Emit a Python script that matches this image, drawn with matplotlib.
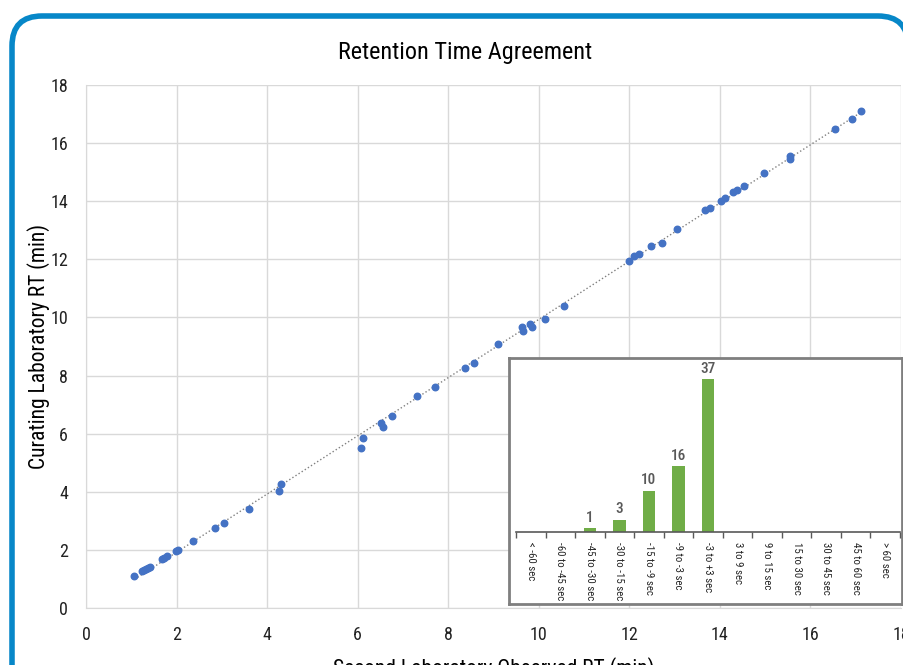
import numpy as np
import matplotlib
matplotlib.use('Agg')
import matplotlib.pyplot as plt
from matplotlib.patches import FancyBboxPatch

plt.rcParams['font.family'] = ['Liberation Sans Narrow', 'Roboto Condensed', 'DejaVu Sans']
plt.rcParams['font.stretch'] = 'condensed'

# dados (min)
second_lab_rt = [1.07, 1.23, 1.27, 1.32, 1.36, 1.41, 1.68, 1.73, 1.79, 1.99, 2.03, 2.37,
                 2.85, 3.04, 3.60, 4.26, 4.31,
                 6.07, 6.11, 6.52, 6.55, 6.75, 7.30, 7.71, 8.38, 8.58, 9.11, 9.64, 9.66,
                 9.81, 9.86, 10.14, 10.56,
                 11.99, 12.10, 12.21, 12.48, 12.73, 13.05, 13.68, 13.78, 14.03, 14.12,
                 14.30, 14.38, 14.53,
                 14.97, 15.54, 15.54, 16.54, 16.92, 17.12]
curating_rt = [1.10, 1.27, 1.31, 1.34, 1.38, 1.42, 1.67, 1.73, 1.79, 1.96, 2.00, 2.29,
               2.74, 2.91, 3.41, 4.01, 4.28,
               5.52, 5.84, 6.38, 6.22, 6.61, 7.28, 7.62, 8.26, 8.44, 9.08, 9.66, 9.53,
               9.78, 9.68, 9.96, 10.40,
               11.94, 12.12, 12.17, 12.46, 12.57, 13.05, 13.69, 13.78, 14.02, 14.12,
               14.32, 14.37, 14.53,
               14.98, 15.55, 15.44, 16.48, 16.83, 17.11]

# histograma das diferencas
bins = ['< -60 sec', '-60 to -45 sec', '-45 to -30 sec', '-30 to -15 sec', '-15 to -9 sec',
        '-9 to -3 sec', '-3 to +3 sec', '3 to 9 sec', '9 to 15 sec', '15 to 30 sec',
        '30 to 45 sec', '45 to 60 sec', '> 60 sec']
counts = [0, 0, 1, 3, 10, 16, 37, 0, 0, 0, 0, 0, 0]

W, H = 904, 665
fig = plt.figure(figsize=(W / 100, H / 100), dpi=100)

# moldura azul arredondada
bg = fig.add_axes([0, 0, 1, 1], zorder=0)
bg.set_xlim(0, W)
bg.set_ylim(H, 0)
bg.axis('off')
bg.add_patch(FancyBboxPatch((12, 16), 896, 690, boxstyle='round,pad=0,rounding_size=30',
                            facecolor='white', edgecolor='#0787C8', linewidth=4, clip_on=False))

# grafico principal
ax = fig.add_axes([86 / W, 1 - 608 / H, 815 / W, 523 / H], zorder=1)
ax.patch.set_alpha(0)
ax.scatter(second_lab_rt, curating_rt, s=22, color='#4472C4', zorder=3)
coef = np.polyfit(second_lab_rt, curating_rt, 1)
xt = np.array([min(second_lab_rt), max(second_lab_rt)])
ax.plot(xt, np.polyval(coef, xt), linestyle=':', color='#808080', linewidth=1, zorder=2)

ax.set_xlim(0, 18)
ax.set_ylim(0, 18)
ax.set_xticks(range(0, 19, 2))
ax.set_yticks(range(0, 19, 2))
ax.grid(True, color='#d9d9d9', linewidth=1)
ax.set_axisbelow(True)
for s in ['top', 'right']:
    ax.spines[s].set_visible(False)
for s in ['left', 'bottom']:
    ax.spines[s].set_color('#d9d9d9')
ax.tick_params(length=0, labelsize=13, colors='#222222', pad=13)
ax.set_title('Retention Time Agreement', fontsize=17.5, pad=19, x=0.465)
ax.set_xlabel('Second Laboratory Observed RT (min)', fontsize=15.5, labelpad=9)
ax.set_ylabel('Curating Laboratory RT (min)', fontsize=15.5, labelpad=0)

# caixa do grafico inserido
box = fig.add_axes([509 / W, 1 - 604 / H, 393 / W, 246 / H], zorder=4)
box.set_xticks([])
box.set_yticks([])
for s in box.spines.values():
    s.set_color('#7f7f7f')
    s.set_linewidth(2)

ins = fig.add_axes([516 / W, 1 - 532 / H, 384 / W, 165 / H], zorder=5)
ins.patch.set_alpha(0)
x = np.arange(len(bins))
bars = ins.bar(x, counts, width=0.42, color='#70AD47')
for xi, c in zip(x, counts):
    if c > 0:
        ins.text(xi, c + 0.8, str(c), ha='center', va='bottom', fontsize=11,
                 color='#595959', fontweight='medium')
ins.set_xlim(-0.5, len(bins) - 0.5)
ins.set_ylim(0, 40)
ins.set_yticks([])
for s in ['top', 'right', 'left']:
    ins.spines[s].set_visible(False)
ins.spines['bottom'].set_color('#595959')
ins.spines['bottom'].set_linewidth(1.2)
ins.set_xticks(x)
ins.set_xticklabels(bins, rotation=-90, fontsize=7.8, color='#262626')
ins.tick_params(axis='x', which='major', length=0, pad=7)
ins.set_xticks(np.arange(-0.5, len(bins)), minor=True)
ins.tick_params(axis='x', which='minor', length=4, width=1, color='#595959', direction='out')

fig.savefig('out.png', dpi=100)
